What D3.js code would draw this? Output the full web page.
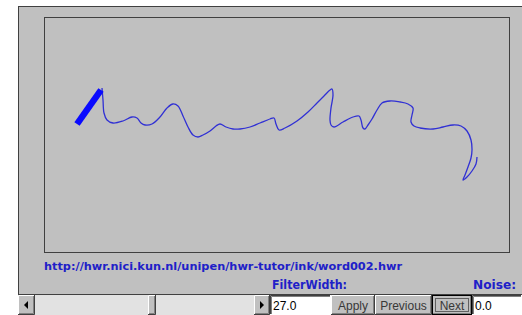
<!DOCTYPE html>
<html>
<head>
<meta charset="utf-8">
<script src="https://cdn.jsdelivr.net/npm/d3@7"></script>
<style>
  body { margin: 0; background: #fff; }
  svg { display: block; }
</style>
</head>
<body>
<div id="applet"></div>
<script>
// ink trace (pen coordinates inside the drawing area)
const inkX = [58, 59, 60, 63, 69, 79, 88, 93, 97, 101, 108, 116, 123, 129, 134, 139, 144, 149, 154, 159,
  166, 172, 176, 182, 189, 196, 206, 216, 226, 230, 232, 235, 241, 253, 264, 273, 280, 286, 288, 289,
  287, 286, 287, 290, 299, 309, 315, 317, 319, 321, 324, 328, 333, 338, 346, 356, 364, 369, 368, 367,
  370, 376, 389, 399, 409, 417, 423, 427, 428, 427, 424, 421, 419, 423, 428, 432, 433];
const inkY = [71, 83, 96, 103, 106, 104, 100, 101, 106, 108, 107, 100, 91, 87, 89, 99, 110, 118, 120, 118,
  114, 109, 107, 110, 112, 112, 110, 106, 102, 101, 107, 113, 111, 104, 95, 86, 79, 73, 72, 78,
  91, 103, 108, 110, 105, 100, 99, 103, 111, 112, 108, 102, 93, 86, 84, 85, 87, 91, 98, 105,
  109, 111, 112, 110, 108, 109, 114, 123, 133, 141, 150, 158, 163, 160, 154, 147, 140];
// retraced start of the word (heavy part)
const retraceX = [33, 57];
const retraceY = [107, 73];

const fileUrl = "http://hwr.nici.kun.nl/unipen/hwr-tutor/ink/word002.hwr";
const fieldLabels = ["FilterWidth:", "Noise:"];
const fieldValues = ["27.0", "0.0"];
const buttonLabels = ["Apply", "Previous", "Next"];

const W = 522, H = 315;
const svg = d3.select("#applet").append("svg").attr("width", W).attr("height", H);

const gray = "#c0c0c0", dark = "#404040", blue = "#2020c8";

// applet panel
svg.append("rect").attr("x", 18).attr("y", 6).attr("width", W - 18).attr("height", 289).attr("fill", gray);
svg.append("line").attr("x1", 18).attr("x2", W).attr("y1", 6.5).attr("y2", 6.5).attr("stroke", dark);
svg.append("line").attr("x1", 18.5).attr("x2", 18.5).attr("y1", 6).attr("y2", 295).attr("stroke", dark);
svg.append("line").attr("x1", 18).attr("x2", W).attr("y1", 294.5).attr("y2", 294.5).attr("stroke", dark);

// drawing area
const area = {x: 44, y: 17, w: 465, h: 235};
svg.append("rect")
  .attr("x", area.x + 0.5).attr("y", area.y + 0.5)
  .attr("width", area.w).attr("height", area.h)
  .attr("fill", "none").attr("stroke", dark);

const x = d3.scaleLinear().domain([0, area.w]).range([area.x, area.x + area.w]);
const y = d3.scaleLinear().domain([0, area.h]).range([area.y, area.y + area.h]);

const line = d3.line()
  .x(d => x(d[0])).y(d => y(d[1]))
  .curve(d3.curveCatmullRom.alpha(0.5));

svg.append("path")
  .datum(inkX.map((v, i) => [v, inkY[i]]))
  .attr("d", line)
  .attr("fill", "none")
  .attr("stroke", "#3030d4")
  .attr("stroke-width", 1.3)
  .attr("stroke-linejoin", "round");

svg.append("path")
  .datum(retraceX.map((v, i) => [v, retraceY[i]]))
  .attr("d", d3.line().x(d => x(d[0])).y(d => y(d[1])))
  .attr("fill", "none")
  .attr("stroke", "#0a0aff")
  .attr("stroke-width", 6.5);

// file name
svg.append("text")
  .attr("x", 44).attr("y", 270)
  .attr("font-family", "DejaVu Sans, Verdana, sans-serif")
  .attr("font-weight", "bold").attr("font-size", 11)
  .attr("textLength", 358).attr("lengthAdjust", "spacingAndGlyphs")
  .attr("fill", blue)
  .text(fileUrl);

// field labels
const labelPos = [{x: 272, w: 75}, {x: 473, w: 43}];
fieldLabels.forEach((t, i) => {
  svg.append("text")
    .attr("x", labelPos[i].x).attr("y", 289)
    .attr("font-family", "DejaVu Sans, Verdana, sans-serif")
    .attr("font-weight", "bold").attr("font-size", 12)
    .attr("textLength", labelPos[i].w).attr("lengthAdjust", "spacingAndGlyphs")
    .attr("fill", blue)
    .text(t);
});

// raised / sunken 3d box helper
function box(x0, y0, w, h, fill, sunken) {
  const g = svg.append("g");
  g.append("rect").attr("x", x0).attr("y", y0).attr("width", w).attr("height", h).attr("fill", fill);
  const tl = sunken ? "#404040" : "#ffffff";
  const br = sunken ? "#ffffff" : "#404040";
  g.append("path").attr("d", `M${x0 + 0.5},${y0 + h}V${y0 + 0.5}H${x0 + w}`).attr("stroke", tl).attr("fill", "none");
  g.append("path").attr("d", `M${x0 + w - 0.5},${y0}V${y0 + h - 0.5}H${x0}`).attr("stroke", br).attr("fill", "none");
  if (!sunken) {
    g.append("path").attr("d", `M${x0 + w - 1.5},${y0 + 1}V${y0 + h - 1.5}H${x0 + 1}`).attr("stroke", "#808080").attr("fill", "none");
  } else {
    g.append("path").attr("d", `M${x0 + 1.5},${y0 + h - 1}V${y0 + 1.5}H${x0 + w - 1}`).attr("stroke", "#808080").attr("fill", "none");
  }
  return g;
}

// scrollbar
const rowY = 295, rowH = 20;
svg.append("rect").attr("x", 35).attr("y", rowY).attr("width", 220).attr("height", rowH).attr("fill", "#e2e2e2");
box(18, rowY, 17, rowH, gray, false);
svg.append("path").attr("d", `M24,${rowY + 10}L28,${rowY + 6}V${rowY + 14}Z`).attr("fill", "#000");
box(148, rowY, 8, rowH, gray, false);
box(254, rowY, 16, rowH, gray, false);
svg.append("path").attr("d", `M264,${rowY + 10}L260,${rowY + 6}V${rowY + 14}Z`).attr("fill", "#000");

// text fields
const fieldPos = [{x: 270, w: 61}, {x: 472, w: 50}];
fieldValues.forEach((t, i) => {
  box(fieldPos[i].x, rowY, fieldPos[i].w, rowH, "#ffffff", true);
  svg.append("text")
    .attr("x", fieldPos[i].x + 3).attr("y", rowY + 15)
    .attr("font-family", "Liberation Sans, Arial, sans-serif").attr("font-size", 12)
    .attr("fill", "#000")
    .text(t);
});

// buttons
const buttonPos = [{x: 331, w: 44}, {x: 375, w: 57}, {x: 432, w: 40}];
buttonLabels.forEach((t, i) => {
  const b = buttonPos[i];
  box(b.x, rowY, b.w, rowH, gray, false);
  if (t === "Next") {
    svg.append("rect").attr("x", b.x + 0.5).attr("y", rowY + 0.5).attr("width", b.w - 1).attr("height", rowH - 1)
      .attr("fill", "none").attr("stroke", "#000");
    svg.append("rect").attr("x", b.x + 3.5).attr("y", rowY + 3.5).attr("width", b.w - 7).attr("height", rowH - 7)
      .attr("fill", "none").attr("stroke", "#000").attr("stroke-dasharray", "1,1");
  }
  svg.append("text")
    .attr("x", b.x + b.w / 2).attr("y", rowY + 15)
    .attr("text-anchor", "middle")
    .attr("font-family", "Liberation Sans, Arial, sans-serif").attr("font-size", 12)
    .attr("fill", "#383838")
    .text(t);
});
</script>
</body>
</html>
